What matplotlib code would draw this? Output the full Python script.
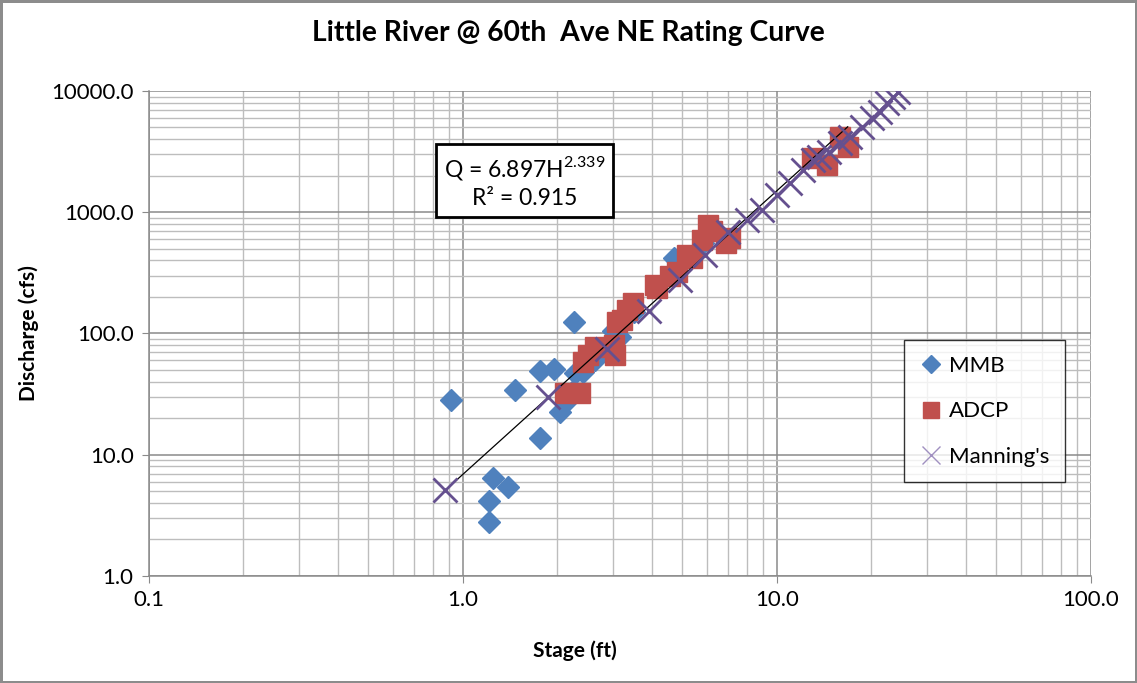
import matplotlib
matplotlib.use("Agg")
import matplotlib.pyplot as plt
from matplotlib.ticker import LogLocator, FixedLocator, NullFormatter
import numpy as np

plt.rcParams['font.family'] = ['Lato', 'DejaVu Sans']
plt.rcParams['mathtext.fontset'] = 'custom'
plt.rcParams['mathtext.rm'] = 'Lato'

title = "Little River @ 60th  Ave NE Rating Curve"
x_label = "Stage (ft)"
y_label = "Discharge (cfs)"

# MMB measurements (stage ft, discharge cfs)
mmb_stage = [0.916, 1.21, 1.21, 1.246, 1.39, 1.464, 1.76, 1.76, 1.95, 2.26,
             2.04, 2.13, 2.22, 2.28, 2.41, 2.63, 3.16, 3.0, 3.5, 4.7, 5.8]
mmb_q = [28.3, 2.8, 4.15, 6.4, 5.4, 34, 13.7, 49, 51, 124,
         22.5, 27, 33, 47, 48, 60, 93, 105, 150, 420, 560]

# ADCP measurements
adcp_stage = [2.11, 2.36, 2.41, 2.50, 2.63, 3.05, 3.02, 3.09, 3.20, 3.33,
              3.48, 4.09, 4.15, 4.55, 4.80, 5.17, 5.35, 5.77, 6.03, 6.20,
              7.08, 6.90, 12.9, 14.4, 15.9, 16.8]
adcp_q = [32, 32, 58, 66, 77, 66, 80, 124, 130, 156,
          178, 251, 237, 300, 322, 444, 420, 590, 789, 700,
          613, 560, 2800, 2450, 4140, 3450]

# Manning's equation estimates
mann_stage = [0.876, 1.865, 2.87, 3.91, 4.91, 5.90, 6.98, 8.02, 8.96, 10.0,
              11.0, 12.1, 13.0, 13.6, 14.7, 15.9, 17.1, 18.7, 20.1, 21.3,
              22.4, 23.4, 24.3]
mann_q = [5.1, 30, 74, 153, 276, 444, 687, 863, 1044, 1390,
          1740, 2230, 2700, 2850, 3140, 3720, 4180, 5050, 5990, 6710,
          7960, 8920, 9810]

# Power-law rating fit Q = a * H^b
fit_a = 6.897
fit_b = 2.339
fit_r2 = 0.915
fit_range = [0.916, 16.8]

x_ticks = [0.1, 1.0, 10.0, 100.0]
y_ticks = [1.0, 10.0, 100.0, 1000.0, 10000.0]

fig = plt.figure(figsize=(11.37, 6.83), dpi=100)
fig.patch.set_facecolor('white')
fig.patch.set_edgecolor('#8c8c8c')
fig.patch.set_linewidth(2.5)

ax = fig.add_axes([0.131, 0.1567, 0.8285, 0.7101])
ax.set_xscale('log')
ax.set_yscale('log')
ax.set_xlim(x_ticks[0], x_ticks[-1])
ax.set_ylim(y_ticks[0], y_ticks[-1])

ax.xaxis.set_major_locator(FixedLocator(x_ticks))
ax.yaxis.set_major_locator(FixedLocator(y_ticks))
ax.xaxis.set_minor_locator(LogLocator(base=10, subs=np.arange(2, 10)))
ax.yaxis.set_minor_locator(LogLocator(base=10, subs=np.arange(2, 10)))
ax.xaxis.set_minor_formatter(NullFormatter())
ax.yaxis.set_minor_formatter(NullFormatter())
ax.set_xticklabels([f"{v:.1f}" for v in x_ticks])
ax.set_yticklabels([f"{v:.1f}" for v in y_ticks])

ax.grid(which='major', color='#8a8a8a', linewidth=1.1)
ax.grid(which='minor', color='#bdbdbd', linewidth=1.0)
ax.set_axisbelow(True)

for side in ['top', 'right']:
    ax.spines[side].set_visible(False)
for side in ['left', 'bottom']:
    ax.spines[side].set_color('#8a8a8a')
    ax.spines[side].set_linewidth(1.1)

ax.tick_params(which='major', length=5, color='#8a8a8a', labelsize=16)
ax.tick_params(axis='x', which='major', pad=5)
ax.tick_params(axis='y', which='major', pad=6)
ax.tick_params(which='minor', length=0)

ax.plot(mmb_stage, mmb_q, linestyle='none', marker='D', markersize=11.5,
        color='#4f81bd', label='MMB', zorder=3)
ax.plot(adcp_stage, adcp_q, linestyle='none', marker='s', markersize=14.5,
        color='#c0504d', label='ADCP', zorder=4)

h = np.geomspace(fit_range[0], fit_range[1], 100)
ax.plot(h, fit_a * h ** fit_b, color='black', linewidth=0.9, zorder=5)

ax.plot(mann_stage, mann_q, linestyle='none', marker='x', markersize=17,
        markeredgewidth=2.0, color='#65508f', label="Manning's", zorder=6)

fig.text(0.5, 0.952, title, fontsize=20.3, fontweight='bold',
         ha='center', va='center')
ax.set_xlabel(x_label, fontsize=15, fontweight='bold')
ax.xaxis.set_label_coords(0.452, -0.132)
ax.set_ylabel(y_label, fontsize=15, fontweight='bold', labelpad=9)

eq_text = f"Q = {fit_a}H$^{{{fit_b}}}$\nR\u00b2 = {fit_r2}"
ax.text(1.57, 1800, eq_text, fontsize=16.5, ha='center', va='center',
        linespacing=1.35, zorder=7,
        bbox=dict(boxstyle='square,pad=0.35', facecolor='white',
                  edgecolor='black', linewidth=2))

leg = ax.legend(loc='upper left', bbox_to_anchor=(0.802, 0.486),
                fontsize=16, frameon=True, fancybox=False,
                borderpad=0.7, labelspacing=1.15, handlelength=1.0,
                handletextpad=0.3, borderaxespad=0, markerscale=0.8)
leg.get_frame().set_edgecolor('black')
leg.get_frame().set_linewidth(1.0)
leg.set_zorder(8)
for hnd in leg.legend_handles:
    if hnd.get_marker() == 'x':
        hnd.set_markeredgewidth(1.0)
        hnd.set_color('#a090c0')

fig.savefig('out.png', dpi=100, facecolor=fig.get_facecolor(),
            edgecolor=fig.get_edgecolor())
